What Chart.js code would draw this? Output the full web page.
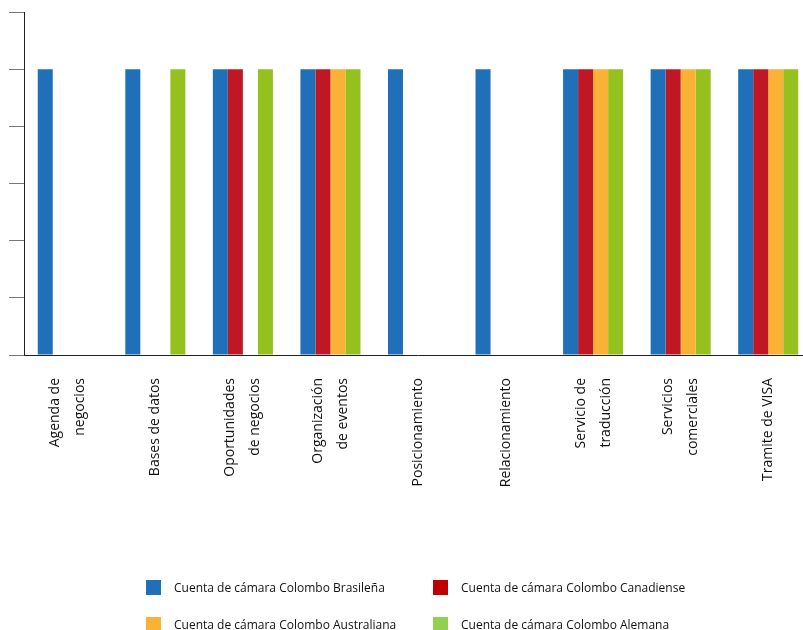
<!DOCTYPE html>
<html lang="es">
<head>
  <meta charset="UTF-8">
  <title>Servicios por cuenta de cámara</title>
  <script src="https://cdn.jsdelivr.net/npm/chart.js"></script>
  <style>
    html, body { margin: 0; padding: 0; background: #fff; overflow: hidden; }
    #wrap { position: relative; width: 812px; height: 630px; }
    #legend {
      position: absolute; left: 146px; top: 579px;
      display: grid; grid-template-columns: 287px 260px; row-gap: 21px;
      font-family: 'Open Sans', sans-serif; font-size: 12px; color: #111;
    }
    .item { display: flex; align-items: center; height: 16px; white-space: nowrap; }
    .box { width: 15px; height: 15px; margin-right: 13px; }
  </style>
</head>
<body>
  <div id="wrap">
    <canvas id="chart" width="812" height="630"></canvas>
    <div id="legend"></div>
  </div>
  <script>
    // categorías (eje X)
    const categorias = [
      ['Agenda de', 'negocios'],
      'Bases de datos',
      ['Oportunidades', 'de negocios'],
      ['Organización', 'de eventos'],
      'Posicionamiento',
      'Relacionamiento',
      ['Servicio de', 'traducción'],
      ['Servicios', 'comerciales'],
      'Tramite de VISA'
    ];

    // series
    const series = [
      'Cuenta de cámara Colombo Brasileña',
      'Cuenta de cámara Colombo Canadiense',
      'Cuenta de cámara Colombo Australiana',
      'Cuenta de cámara Colombo Alemana'
    ];
    const brasilena   = [5, 5, 5, 5, 5, 5, 5, 5, 5];
    const canadiense  = [0, 0, 5, 5, 0, 0, 5, 5, 5];
    const australiana = [0, 0, 0, 5, 0, 0, 5, 5, 5];
    const alemana     = [0, 5, 5, 5, 0, 0, 5, 5, 5];

    // eje Y (sin etiquetas)
    const yMax = 6;
    const yPaso = 1;

    const coloresBarra   = ['#1f70b8', '#c01724', '#f9b136', '#95c11f'];
    const coloresLeyenda = ['#1f70b8', '#c00000', '#f9b233', '#92d050'];
    const valores = [brasilena, canadiense, australiana, alemana];

    // Chart.js pone la 1a línea de una etiqueta rotada sobre el tick;
    // con medias líneas y una línea vacía se centra el bloque
    const etiqueta = (v, i) => {
      const c = categorias[i];
      return Array.isArray(c) ? [c[0], '', c[1]] : ['', c];
    };

    new Chart(document.getElementById('chart'), {
      type: 'bar',
      data: {
        labels: categorias,
        datasets: series.map((s, i) => ({
          label: s,
          data: valores[i],
          backgroundColor: coloresBarra[i],
          borderWidth: 0,
          barPercentage: 1,
          categoryPercentage: 0.686
        }))
      },
      options: {
        responsive: false,
        animation: false,
        layout: { padding: { top: 12, left: 0, right: 0, bottom: 0 } },
        plugins: { legend: { display: false }, tooltip: { enabled: false } },
        scales: {
          x: {
            afterFit: s => { s.height = 275; },
            border: { color: '#222', width: 1 },
            grid: {
              offset: true,
              drawOnChartArea: false,
              tickLength: 16,
              tickColor: '#777',
              tickBorderDash: [0, 15, 1, 1]
            },
            ticks: {
              callback: etiqueta,
              minRotation: 90, maxRotation: 90,
              autoSkip: false,
              padding: 7,
              labelOffset: -12.5,
              color: '#111',
              font: { family: 'Open Sans', size: 14, lineHeight: '12.5px' }
            }
          },
          y: {
            min: 0, max: yMax,
            afterFit: s => { s.width = 24; },
            border: { color: '#222', width: 1 },
            grid: { drawOnChartArea: false, tickLength: 15, tickColor: '#777' },
            ticks: { display: false, stepSize: yPaso }
          }
        }
      }
    });

    // leyenda
    const leyenda = document.getElementById('legend');
    series.forEach((s, i) => {
      const it = document.createElement('div');
      it.className = 'item';
      it.innerHTML = '<span class="box" style="background:' + coloresLeyenda[i] + '"></span>' + s;
      leyenda.appendChild(it);
    });
  </script>
</body>
</html>
